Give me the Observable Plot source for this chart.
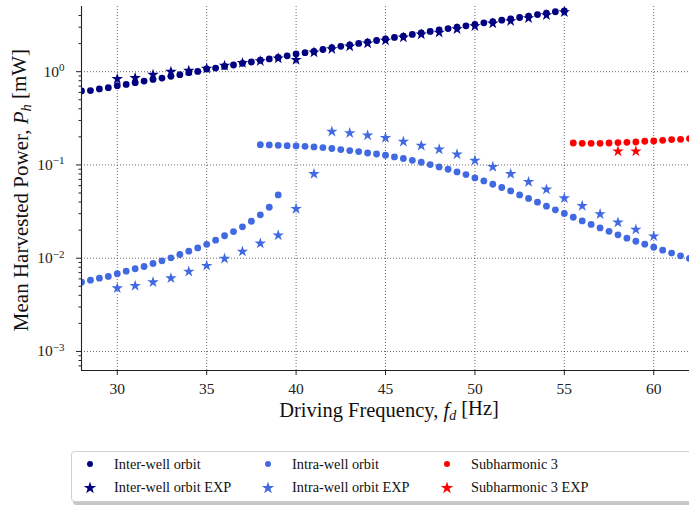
<!DOCTYPE html>
<html><head><meta charset="utf-8">
<script src="https://cdn.jsdelivr.net/npm/d3@7"></script>
<script src="https://cdn.jsdelivr.net/npm/@observablehq/plot@0.6"></script>
<style>
body{margin:0;background:#fff;}
#wrap{position:relative;width:689px;height:506px;overflow:hidden;font-family:"Liberation Serif",serif;}
#wrap svg{display:block;}
#wrap svg text{font-family:"Liberation Serif",serif !important;}
</style></head><body><div id="wrap"></div>
<script>
// ---- data ----
const interFreq = [28,28.5,29,29.5,30,30.5,31,31.5,32,32.5,33,33.5,34,34.5,35,35.5,36,36.5,37,37.5,38,38.5,39,39.5,40,40.5,41,41.5,42,42.5,43,43.5,44,44.5,45,45.5,46,46.5,47,47.5,48,48.5,49,49.5,50,50.5,51,51.5,52,52.5,53,53.5,54,54.5,55];
const interPower = [0.622,0.627,0.653,0.674,0.708,0.731,0.762,0.794,0.826,0.855,0.891,0.929,0.975,1.007,1.07,1.094,1.14,1.18,1.228,1.27,1.33,1.37,1.42,1.48,1.55,1.60,1.65,1.73,1.81,1.87,1.94,2.01,2.09,2.16,2.24,2.33,2.41,2.51,2.60,2.70,2.80,2.90,3.00,3.10,3.22,3.34,3.45,3.57,3.69,3.81,3.95,4.10,4.25,4.39,4.49];
const interExpFreq = [30,31,32,33,34,35,36,37,38,39,40,41,42,43,44,45,46,47,48,49,50,51,52,53,54,55];
const interExpPower = [0.836,0.857,0.929,1.0,1.025,1.08,1.16,1.24,1.30,1.39,1.34,1.61,1.75,1.87,2.01,2.16,2.33,2.51,2.63,2.86,3.08,3.29,3.49,3.75,4.04,4.35];
const intraLowFreq = [28,28.5,29,29.5,30,30.5,31,31.5,32,32.5,33,33.5,34,34.5,35,35.5,36,36.5,37,37.5,38,38.5,39];
const intraLowPower = [0.00553,0.00581,0.00611,0.00637,0.00681,0.00726,0.00771,0.00815,0.00877,0.00938,0.0101,0.01096,0.0119,0.0129,0.0141,0.0156,0.0174,0.0193,0.0217,0.0249,0.0292,0.0352,0.0477];
const intraHighFreq = [38,38.5,39,39.5,40,40.5,41,41.5,42,42.5,43,43.5,44,44.5,45,45.5,46,46.5,47,47.5,48,48.5,49,49.5,50,50.5,51,51.5,52,52.5,53,53.5,54,54.5,55,55.5,56,56.5,57,57.5,58,58.5,59,59.5,60,60.5,61,61.5,62];
const intraHighPower = [0.165,0.164,0.1625,0.161,0.160,0.1585,0.156,0.1535,0.150,0.146,0.1426,0.139,0.1343,0.131,0.127,0.1219,0.1172,0.1122,0.1069,0.101,0.0952,0.0899,0.0842,0.0789,0.0726,0.0674,0.0621,0.0573,0.0527,0.0477,0.0437,0.0399,0.0361,0.033,0.0302,0.0275,0.0251,0.023,0.0211,0.0194,0.0178,0.0164,0.0152,0.01415,0.0131,0.0122,0.01135,0.0106,0.00995];
const intraExpFreq = [30,31,32,33,34,35,36,37,38,39,40,41,42,43,44,45,46,47,48,49,50,51,52,53,54,55,56,57,58,59,60];
const intraExpPower = [0.00477,0.00506,0.00553,0.0061,0.0072,0.0083,0.0099,0.0118,0.0144,0.0176,0.0338,0.080,0.228,0.220,0.208,0.195,0.178,0.161,0.147,0.130,0.1114,0.0953,0.080,0.0658,0.0546,0.044,0.0364,0.0297,0.0242,0.0203,0.0172];
const subFreq = [55.5,56,56.5,57,57.5,58,58.5,59,59.5,60,60.5,61,61.5,62];
const subPower = [0.172,0.1707,0.1707,0.1707,0.172,0.1738,0.175,0.1763,0.1794,0.1807,0.1838,0.187,0.1884,0.1917];
const subExpFreq = [58,59];
const subExpPower = [0.140,0.140];

const xTicks = [30,35,40,45,50,55,60];
const yMajor = [1e-3,1e-2,1e-1,1];
const yExponents = ["−3","−2","−1","0"];
const yMinor = [7e-4,8e-4,9e-4,2e-3,3e-3,4e-3,5e-3,6e-3,7e-3,8e-3,9e-3,0.02,0.03,0.04,0.05,0.06,0.07,0.08,0.09,0.2,0.3,0.4,0.5,0.6,0.7,0.8,0.9,2,3,4];
const legendLabels = ["Inter-well orbit","Inter-well orbit EXP","Intra-well orbit","Intra-well orbit EXP","Subharmonic 3","Subharmonic 3 EXP"];
const NAVY = "#000080", ROYAL = "#4169e1", RED = "#ff0000";

const rows = (f, p) => f.map((x, i) => ({f: x, p: p[i]}));
const FONT = "Liberation Serif";
const gridOpt = {stroke: "#333", strokeOpacity: 0.9, strokeWidth: 0.8, strokeDasharray: "1,2"};
const dotR = 3.4, starR = 3.6;

const chart = Plot.plot({
  width: 689, height: 440,
  marginLeft: 81, marginRight: 0, marginTop: 6, marginBottom: 70,
  style: {fontFamily: FONT, fontSize: "15.5px", color: "#222", background: "#fff", overflow: "visible"},
  x: {domain: [28, 62]},
  y: {type: "log", domain: [6.25e-4, 5]},
  marks: [
    Plot.gridX(xTicks, gridOpt),
    Plot.gridY(yMajor, gridOpt),
    Plot.dot(rows(interFreq, interPower), {x: "f", y: "p", r: dotR, fill: NAVY, clip: true}),
    Plot.dot(rows(interExpFreq, interExpPower), {x: "f", y: "p", r: starR, symbol: "star", fill: NAVY, clip: true}),
    Plot.dot(rows(intraLowFreq, intraLowPower), {x: "f", y: "p", r: dotR, fill: ROYAL, clip: true}),
    Plot.dot(rows(intraHighFreq, intraHighPower), {x: "f", y: "p", r: dotR, fill: ROYAL, clip: true}),
    Plot.dot(rows(intraExpFreq, intraExpPower), {x: "f", y: "p", r: starR, symbol: "star", fill: ROYAL, clip: true}),
    Plot.dot(rows(subFreq, subPower), {x: "f", y: "p", r: dotR, fill: RED, clip: true}),
    Plot.dot(rows(subExpFreq, subExpPower), {x: "f", y: "p", r: starR, symbol: "star", fill: RED, clip: true}),
    Plot.ruleX([28], {stroke: "#222", strokeWidth: 1.1}),
    Plot.ruleY([6.25e-4], {stroke: "#222", strokeWidth: 1.1}),
    Plot.axisX({ticks: xTicks, tickSize: 5, tickPadding: 7, label: null, stroke: "#222", fill: "#222"}),
    Plot.axisY({ticks: yMinor, tickSize: 2.5, tickFormat: () => "", label: null, stroke: "#222"}),
    Plot.axisY({ticks: yMajor, tickSize: 5, tickPadding: 12, label: null, stroke: "#222", fill: "#222",
      tickFormat: (d) => yExponents[yMajor.indexOf(d)]})
  ]
});

document.getElementById("wrap").appendChild(chart);
const svg = d3.select(chart);

// rebuild major y tick labels as 10 with superscript exponent
svg.selectAll('g[aria-label="y-axis tick label"] text').each(function() {
  const t = d3.select(this);
  const exp = this.textContent;
  if (!exp) return;
  t.text("");
  t.append("tspan").text("10");
  t.append("tspan").attr("dy", "-0.5em").style("font-size", "11px").text(exp);
});

// axis labels
const xl = svg.append("text").attr("x", 389).attr("y", 416.5).attr("text-anchor", "middle")
  .style("font-size", "20.5px").attr("fill", "#111");
xl.append("tspan").text("Driving Frequency, ");
xl.append("tspan").style("font-style", "italic").text("f");
xl.append("tspan").attr("dy", "0.25em").style("font-size", "14px").style("font-style", "italic").text("d");
xl.append("tspan").attr("dy", "-0.25em").text(" [Hz]");

const yl = svg.append("text").attr("transform", "translate(27.5,190) rotate(-90)").attr("text-anchor", "middle")
  .style("font-size", "21px").attr("fill", "#111");
yl.append("tspan").text("Mean Harvested Power, ");
yl.append("tspan").style("font-style", "italic").text("P");
yl.append("tspan").attr("dy", "0.25em").style("font-size", "14.5px").style("font-style", "italic").text("h");
yl.append("tspan").attr("dy", "-0.25em").text(" [mW]");

// legend below the plot
const leg = d3.select("#wrap").append("svg").attr("width", 689).attr("height", 66);
leg.append("rect").attr("x", 73).attr("y", 14).attr("width", 700).attr("height", 51).attr("rx", 3)
  .attr("fill", "#999").attr("opacity", 0.55);
leg.append("rect").attr("x", 71.5).attr("y", 11.5).attr("width", 700).attr("height", 50).attr("rx", 3)
  .attr("fill", "#fff").attr("stroke", "#cfcfcf");
const legColors = [NAVY, NAVY, ROYAL, ROYAL, RED, RED];
const colMarkX = [90, 268, 447], colTextX = [114, 292, 471];
const rowY = [24, 47.5], rowBase = [29.3, 52.3];
legendLabels.forEach((lab, i) => {
  const c = Math.floor(i / 2), r = i % 2;
  if (r === 0) {
    leg.append("circle").attr("cx", colMarkX[c]).attr("cy", rowY[r]).attr("r", 3).attr("fill", legColors[i]);
  } else {
    leg.append("path").attr("d", d3.symbol(d3.symbolStar, 48)()).attr("transform", `translate(${colMarkX[c]},${rowY[r] + 0.5})`).attr("fill", legColors[i]);
  }
  leg.append("text").attr("x", colTextX[c]).attr("y", rowBase[r])
    .style("font-size", "14.3px").attr("fill", "#111").text(lab);
});
</script>
</body></html>
